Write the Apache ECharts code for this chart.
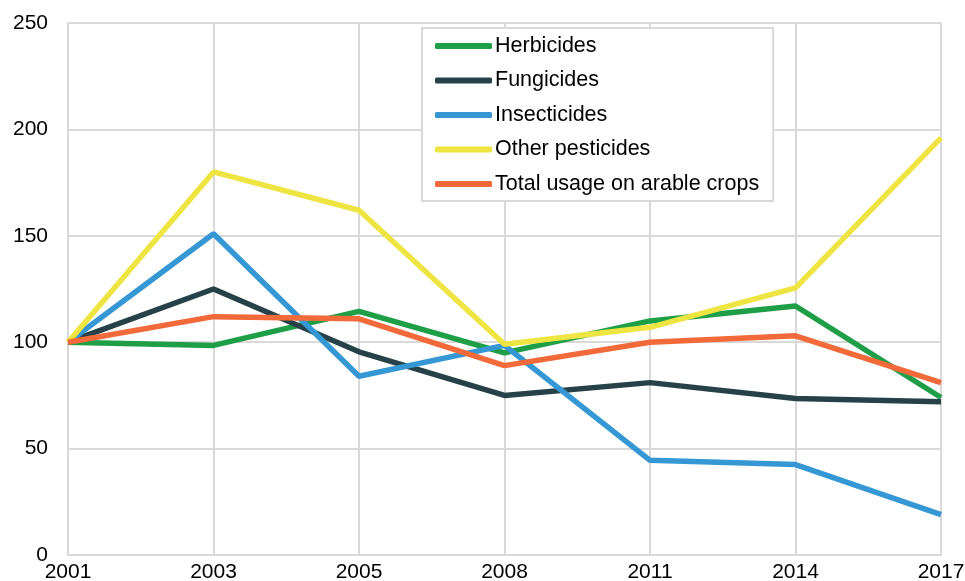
<!DOCTYPE html>
<html>
<head>
<meta charset="utf-8">
<script src="https://cdn.jsdelivr.net/npm/echarts@6/dist/echarts.min.js"></script>
<style>
  html, body { margin: 0; padding: 0; background: #fff; }
  #chart { width: 965px; height: 581px; }
</style>
</head>
<body>
<div id="chart"></div>
<script>
// years on the x axis
const years = ['2001', '2003', '2005', '2008', '2011', '2014', '2017']

// index values (2001 = 100)
const herbicides = [100, 98.5, 114.5, 95, 110, 117, 74]
const fungicides = [100, 125, 95.5, 75, 81, 73.5, 72]
const insecticides = [100, 151, 84, 98.5, 44.5, 42.5, 19]
const otherPesticides = [100, 180, 162, 99, 107, 125.5, 196]
const totalUsage = [100, 112, 111, 89, 100, 103, 81]

const seriesNames = ['Herbicides', 'Fungicides', 'Insecticides', 'Other pesticides', 'Total usage on arable crops']
const seriesColors = ['#1f9e48', '#264248', '#3597d3', '#efe542', '#f2693a']
const seriesData = [herbicides, fungicides, insecticides, otherPesticides, totalUsage]

const gridColor = '#d9d9d9'
const font = 'Liberation Sans, Arial, sans-serif'

const option = {
  animation: false,
  textStyle: {fontFamily: font},
  grid: {left: 68, right: 24, top: 23, bottom: 26, outerBoundsMode: 'none'},
  legend: {
    orient: 'vertical',
    left: 422,
    top: 28,
    width: 351,
    padding: [7, 14, 6, 13],
    backgroundColor: '#fff',
    borderColor: gridColor,
    borderWidth: 2,
    itemWidth: 57,
    itemHeight: 6,
    itemGap: 12.5,
    icon: 'roundRect',
    textStyle: {fontSize: 21.5, color: '#000', fontFamily: font, lineHeight: 22, padding: [0, 0, 0, -2]},
    data: seriesNames
  },
  xAxis: {
    type: 'category',
    data: years,
    boundaryGap: false,
    axisLine: {lineStyle: {color: gridColor, width: 2}},
    axisTick: {show: false},
    splitLine: {show: true, lineStyle: {color: gridColor, width: 2}},
    axisLabel: {color: '#000', fontSize: 21, margin: 7}
  },
  yAxis: {
    type: 'value',
    min: 0,
    max: 250,
    interval: 50,
    axisLine: {show: true, lineStyle: {color: gridColor, width: 2}},
    axisTick: {show: false},
    splitLine: {lineStyle: {color: gridColor, width: 2}},
    axisLabel: {color: '#000', fontSize: 21, margin: 20}
  },
  series: seriesNames.map((name, i) => ({
    name: name,
    type: 'line',
    data: seriesData[i],
    symbol: 'none',
    color: seriesColors[i],
    lineStyle: {width: 5.5, color: seriesColors[i]}
  }))
}

const myechart = echarts.init(document.getElementById('chart'))
myechart.setOption(option)
</script>
</body>
</html>
